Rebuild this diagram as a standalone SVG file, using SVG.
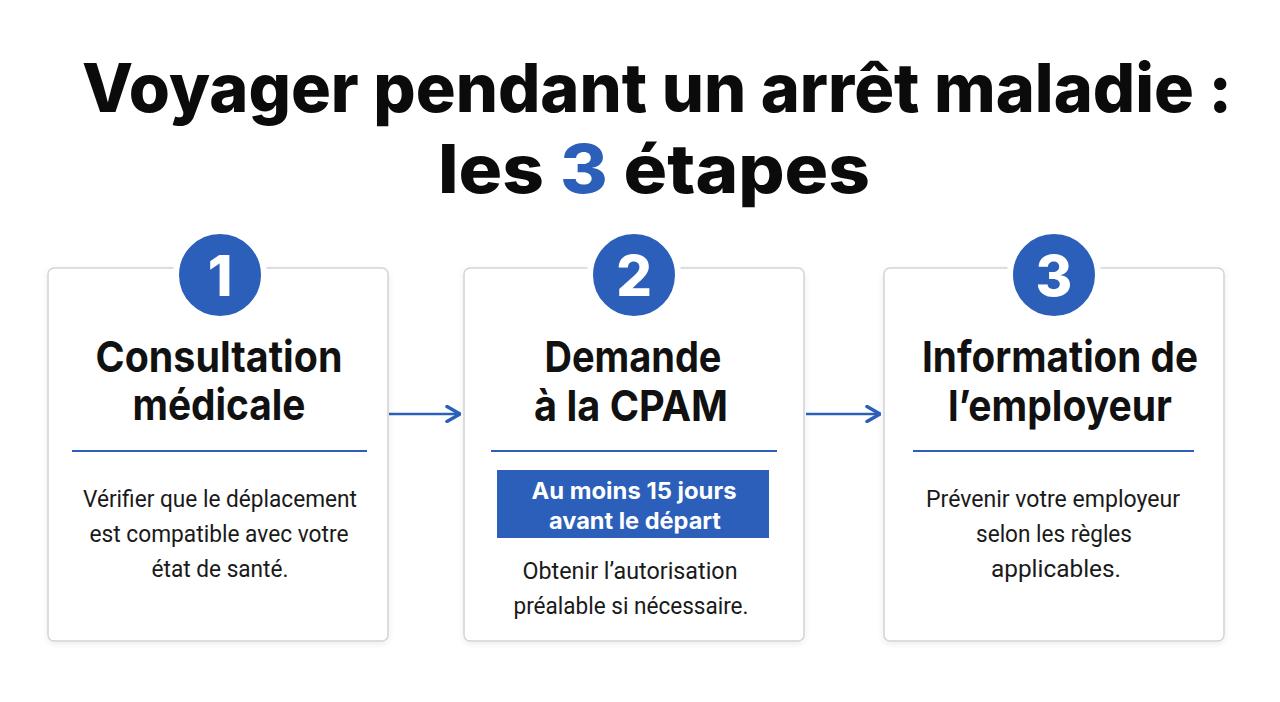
<svg xmlns="http://www.w3.org/2000/svg" width="1280" height="702" viewBox="0 0 1280 702">
<defs>
<style>
.title{font-family:Inter,"Liberation Sans",sans-serif;font-weight:800;fill:#0b0b0b;text-anchor:middle}
.head{font-family:Inter,"Liberation Sans",sans-serif;font-weight:700;font-size:43px;fill:#111;text-anchor:middle}
.body{font-family:Roboto,"Liberation Sans",sans-serif;font-weight:400;font-size:23px;fill:#1a1a1a;text-anchor:middle}
.num{font-family:Inter,"Liberation Sans",sans-serif;font-weight:800;font-size:56px;fill:#fff;text-anchor:middle}
.badge{font-family:Inter,"Liberation Sans",sans-serif;font-weight:700;font-size:23px;fill:#fff;text-anchor:middle}
.card{fill:#fff;stroke:#d4d4d4;stroke-width:1.5}
.circ{fill:#2c5fb9;stroke:#fff;stroke-width:6}
.div{stroke:#2c5fb9;stroke-width:2}
.conn{stroke:#2c5fb9;stroke-width:2.5;fill:none}
</style>
<filter id="sh" x="-10%" y="-10%" width="120%" height="120%">
<feDropShadow dx="0" dy="2" stdDeviation="3" flood-color="#000" flood-opacity="0.08"/>
</filter>
<marker id="arr" viewBox="0 0 16 18" refX="15" refY="9" markerWidth="16" markerHeight="18" markerUnits="userSpaceOnUse" orient="auto">
<path d="M2,1.5 L15,9 L2,16.5" fill="none" stroke="#2c5fb9" stroke-width="3.5" stroke-linejoin="round" stroke-linecap="round"/>
</marker>
</defs>
<rect width="1280" height="702" fill="#ffffff"/>
<g id="title">
<text class="title" x="657" y="112" font-size="67" textLength="1150" lengthAdjust="spacingAndGlyphs">Voyager pendant un arrêt maladie :</text>
<text class="title" x="654" y="193" font-size="67" textLength="432" lengthAdjust="spacingAndGlyphs">les <tspan fill="#2c5fb9">3</tspan> étapes</text>
</g>
<g id="connectors">
<line class="conn" x1="389" y1="414" x2="460" y2="414" marker-end="url(#arr)"/>
<line class="conn" x1="806" y1="414" x2="880" y2="414" marker-end="url(#arr)"/>
</g>
<g id="step1">
<rect class="card" x="48" y="268" width="340" height="373" rx="6" filter="url(#sh)"/>
<circle class="circ" cx="220" cy="275" r="44"/>
<text class="num" x="220" y="296">1</text>
<text class="head" x="219" y="372" textLength="247" lengthAdjust="spacingAndGlyphs">Consultation</text>
<text class="head" x="219" y="420" textLength="173" lengthAdjust="spacingAndGlyphs">médicale</text>
<line class="div" x1="72" y1="451" x2="367" y2="451"/>
<text class="body" x="220" y="507" textLength="274" lengthAdjust="spacingAndGlyphs">Vérifier que le déplacement</text>
<text class="body" x="219" y="542" textLength="259" lengthAdjust="spacingAndGlyphs">est compatible avec votre</text>
<text class="body" x="220" y="577" textLength="137" lengthAdjust="spacingAndGlyphs">état de santé.</text>
</g>
<g id="step2">
<rect class="card" x="464" y="268" width="340" height="373" rx="6" filter="url(#sh)"/>
<circle class="circ" cx="634" cy="275" r="44"/>
<text class="num" x="634" y="296">2</text>
<text class="head" x="633" y="372" textLength="177" lengthAdjust="spacingAndGlyphs">Demande</text>
<text class="head" x="631" y="421" textLength="194" lengthAdjust="spacingAndGlyphs">à la CPAM</text>
<line class="div" x1="491" y1="451" x2="777" y2="451"/>
<rect x="497" y="470" width="272" height="68" fill="#2c5fb9"/>
<text class="badge" x="634" y="499" textLength="205" lengthAdjust="spacingAndGlyphs">Au moins 15 jours</text>
<text class="badge" x="635" y="529" textLength="172" lengthAdjust="spacingAndGlyphs">avant le départ</text>
<text class="body" x="630" y="579" textLength="215" lengthAdjust="spacingAndGlyphs">Obtenir l’autorisation</text>
<text class="body" x="631" y="614" textLength="235" lengthAdjust="spacingAndGlyphs">préalable si nécessaire.</text>
</g>
<g id="step3">
<rect class="card" x="884" y="268" width="340" height="373" rx="6" filter="url(#sh)"/>
<circle class="circ" cx="1054" cy="275" r="44"/>
<text class="num" x="1054" y="296">3</text>
<text class="head" x="1060" y="372" textLength="276" lengthAdjust="spacingAndGlyphs">Information de</text>
<text class="head" x="1060" y="421" textLength="224" lengthAdjust="spacingAndGlyphs">l’employeur</text>
<line class="div" x1="913" y1="451" x2="1194" y2="451"/>
<text class="body" x="1053" y="507" textLength="254" lengthAdjust="spacingAndGlyphs">Prévenir votre employeur</text>
<text class="body" x="1054" y="542" textLength="156" lengthAdjust="spacingAndGlyphs">selon les règles</text>
<text class="body" x="1056" y="577" textLength="130" lengthAdjust="spacingAndGlyphs">applicables.</text>
</g>
</svg>
